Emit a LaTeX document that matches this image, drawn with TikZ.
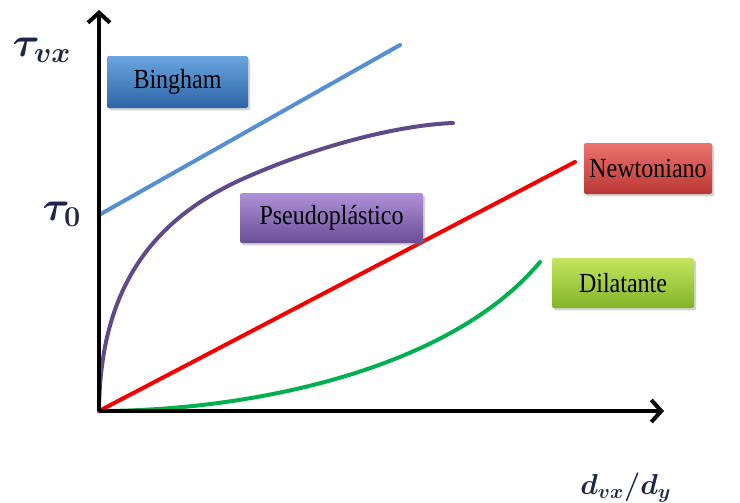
\documentclass[tikz,border=0pt]{standalone}
\usepackage{bm}
\usepackage{fontspec}
\setmainfont{Liberation Serif}
\usetikzlibrary{arrows.meta,shadows}
\definecolor{bingline}{RGB}{85,142,213}
\definecolor{pseudoline}{RGB}{95,75,139}
\definecolor{newtline}{RGB}{245,0,0}
\definecolor{dilline}{RGB}{0,176,80}
\definecolor{bingtop}{RGB}{105,165,225}
\definecolor{bingbot}{RGB}{45,100,165}
\definecolor{pseudotop}{RGB}{175,145,215}
\definecolor{pseudobot}{RGB}{105,78,150}
\definecolor{newttop}{RGB}{235,115,110}
\definecolor{newtbot}{RGB}{185,55,50}
\definecolor{diltop}{RGB}{195,230,95}
\definecolor{dilbot}{RGB}{130,180,40}
\definecolor{labelcol}{RGB}{30,40,70}
\begin{document}
\begin{tikzpicture}[x=0.5pt,y=-0.5pt,
  axisline/.style={line width=2pt,black,-{Straight Barb[length=5pt,width=11pt,line width=2pt]}},
  curveline/.style={line width=2pt,line cap=round},
  modelbox/.style={rounded corners=1pt,inner sep=0pt,
    font=\fontsize{12}{14}\selectfont,text=black,
    drop shadow={opacity=0.35,shadow xshift=1pt,shadow yshift=-1.2pt}},
  axlabel/.style={text=labelcol,inner sep=0pt}]
\useasboundingbox (0,0) rectangle (740,503);
% coordinates
\coordinate (O) at (99,411);
\coordinate (ytip) at (99,10);
\coordinate (xtip) at (664,411);
\coordinate (t0) at (99,215);
\coordinate (bingend) at (400,45);
\coordinate (newtend) at (575,162);
\coordinate (pmid) at (247,177);
\coordinate (pend) at (453,123);
\coordinate (dend) at (540,262);
% curves
\draw[curveline,dilline] (O) .. controls (250,411) and (450,370) .. (dend);
\draw[curveline,pseudoline] (O) .. controls (100,280) and (160,215) .. (pmid)
   .. controls (320,145) and (400,125) .. (pend);
\draw[curveline,newtline] (O) -- (newtend);
\draw[curveline,bingline] (t0) -- (bingend);
% axes
\draw[axisline] (O) -- (ytip);
\draw[axisline] (O) -- (xtip);
% boxes
\node[modelbox,top color=bingtop,bottom color=bingbot,minimum width=70.5pt,minimum height=26pt] (bingham) at (177.5,82) {\scalebox{1}[1.15]{Bingham}};
\node[modelbox,top color=pseudotop,bottom color=pseudobot,minimum width=91.5pt,minimum height=25pt] (pseudo) at (331.5,218) {\scalebox{1}[1.15]{Pseudopl\'astico}};
\node[modelbox,top color=newttop,bottom color=newtbot,minimum width=64pt,minimum height=25.5pt] (newt) at (648,168.5) {\scalebox{1}[1.15]{Newtoniano}};
\node[modelbox,top color=diltop,bottom color=dilbot,minimum width=71pt,minimum height=25pt] (dil) at (623,283) {\scalebox{1}[1.15]{Dilatante}};
% labels
\node[axlabel,font=\fontsize{22}{24}\selectfont] (tauvx) at (42,50) {$\bm{\tau}_{\bm{vx}}$};
\node[axlabel,font=\fontsize{20}{22}\selectfont] (tau0) at (62,214) {$\bm{\tau}_{\bm{0}}$};
\node[axlabel,font=\fontsize{14}{16}\selectfont,anchor=base west] (dxdy) at (580,494) {$\bm{d}_{\bm{vx}}\bm{/}\bm{d}_{\bm{y}}$};
\end{tikzpicture}
\end{document}
